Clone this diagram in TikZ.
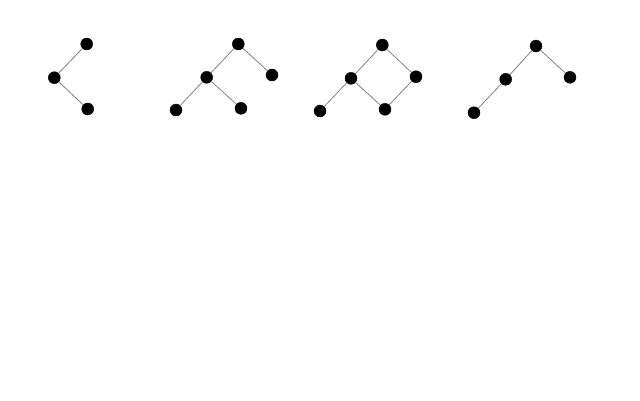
\documentclass[tikz,border=0pt]{standalone}
\usepackage{tikz}

\begin{document}
\begin{tikzpicture}[x=1pt, y=-1pt, every node/.style={draw, circle, fill=black, inner sep=0pt, minimum size=12pt}]
  \useasboundingbox (0,0) rectangle (640,400);
  % first
  \node (A1) at (86.7,44) {};
  \node (B1) at (54.3,77.7) {};
  \node (C1) at (87.7,109) {};
  \draw[gray, line width=0.8pt] (A1) -- (B1) -- (C1);
  % second
  \node (A2) at (238.3,44) {};
  \node (B2) at (206.7,77.3) {};
  \node (C2) at (272,75) {};
  \node (D2) at (176,110) {};
  \node (E2) at (241,108.3) {};
  \draw[gray, line width=0.8pt] (A2) -- (B2) -- (D2);
  \draw[gray, line width=0.8pt] (A2) -- (C2);
  \draw[gray, line width=0.8pt] (B2) -- (E2);
  % third
  \node (A3) at (382.3,45) {};
  \node (B3) at (351,78.3) {};
  \node (C3) at (416,76.7) {};
  \node (D3) at (320,111) {};
  \node (E3) at (385,109.3) {};
  \draw[gray, line width=0.8pt] (A3) -- (B3) -- (D3);
  \draw[gray, line width=0.8pt] (A3) -- (C3) -- (E3) -- (B3);
  % fourth
  \node (A4) at (536,46) {};
  \node (B4) at (505.7,79.3) {};
  \node (C4) at (570,77.3) {};
  \node (D4) at (474,112.7) {};
  \draw[gray, line width=0.8pt] (A4) -- (B4) -- (D4);
  \draw[gray, line width=0.8pt] (A4) -- (C4);
\end{tikzpicture}
\end{document}
